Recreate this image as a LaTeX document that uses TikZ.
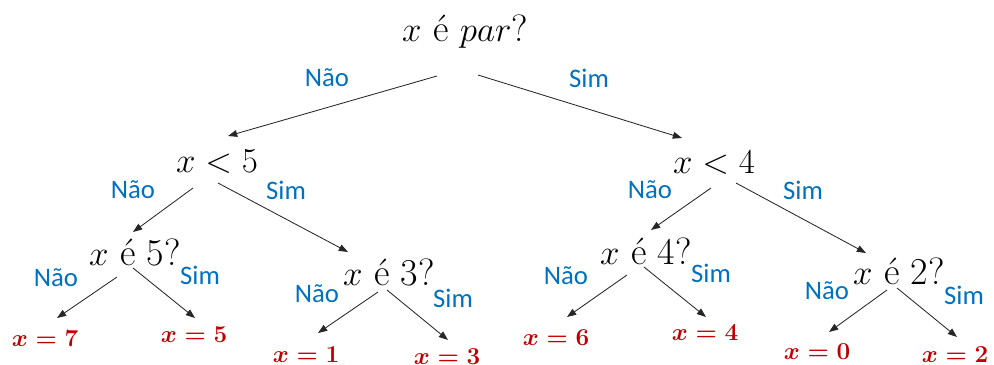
\documentclass[tikz,border=0pt]{standalone}
\usepackage{fontspec}
\usepackage{xcolor}
\usepackage{tikz}
\usetikzlibrary{arrows.meta}
\newfontfamily\lblfont{Carlito}
\definecolor{lblblue}{HTML}{0070C0}
\definecolor{leafred}{HTML}{C00000}

\begin{document}
\begin{tikzpicture}[x=0.025cm, y=-0.025cm,
    cond/.style={font=\fontsize{27}{30}\selectfont, inner sep=0pt},
    leaf/.style={font=\fontsize{18}{22}\selectfont\boldmath, text=leafred, inner sep=0pt},
    lbl/.style={font=\lblfont\fontsize{19}{22}\selectfont, text=lblblue, inner sep=0pt},
    arr/.style={-{Triangle[length=2.3mm,width=1.7mm]}, line width=0.6pt, black!85}
  ]
  \useasboundingbox (0,0) rectangle (994,364);

  % questions
  \node[cond] (root) at (465,32) {$x$ é $par$?};
  \node[cond] (lt5) at (217,162) {$x<5$};
  \node[cond] (lt4) at (714,163) {$x<4$};
  \node[cond] (is5) at (135,252) {$x$ é 5?};
  \node[cond] (is3) at (389,272) {$x$ é 3?};
  \node[cond] (is4) at (646,251) {$x$ é 4?};
  \node[cond] (is2) at (899,271) {$x$ é 2?};

  % answers
  \node[leaf] (x7) at (45,339) {$x=7$};
  \node[leaf] (x5) at (194,335) {$x=5$};
  \node[leaf] (x1) at (306,355) {$x=1$};
  \node[leaf] (x3) at (447,357) {$x=3$};
  \node[leaf] (x6) at (556,338) {$x=6$};
  \node[leaf] (x4) at (705,333) {$x=4$};
  \node[leaf] (x0) at (817,352) {$x=0$};
  \node[leaf] (x2) at (955,355) {$x=2$};

  % branch labels
  \node[lbl] (rootno) at (327,78) {Não};
  \node[lbl] (rootyes) at (589,78) {Sim};
  \node[lbl] (lt5no) at (133,190) {Não};
  \node[lbl] (lt5yes) at (286,190) {Sim};
  \node[lbl] (lt4no) at (650,190) {Não};
  \node[lbl] (lt4yes) at (803,190) {Sim};
  \node[lbl] (is5no) at (56,278) {Não};
  \node[lbl] (is5yes) at (200,275) {Sim};
  \node[lbl] (is3no) at (317,294) {Não};
  \node[lbl] (is3yes) at (453,298) {Sim};
  \node[lbl] (is4no) at (566,276) {Não};
  \node[lbl] (is4yes) at (711,273) {Sim};
  \node[lbl] (is2no) at (827,291) {Não};
  \node[lbl] (is2yes) at (964,295) {Sim};

  \draw[arr] ([shift={(-28,44)}]root.center) -- ([shift={(11,-26)}]lt5.center);
  \draw[arr] ([shift={(13,43)}]root.center) -- ([shift={(-32,-25)}]lt4.center);

  \draw[arr] ([shift={(-24,26)}]lt5.center) -- ([shift={(-2,-20)}]is5.center);
  \draw[arr] ([shift={(1,21)}]lt5.center) -- ([shift={(-41,-20)}]is3.center);
  \draw[arr] ([shift={(-3,25)}]lt4.center) -- ([shift={(5,-21)}]is4.center);
  \draw[arr] ([shift={(22,20)}]lt4.center) -- ([shift={(-33,-18)}]is2.center);

  \draw[arr] ([shift={(-18,25)}]is5.center) -- ([shift={(12,-21)}]x7.center);
  \draw[arr] ([shift={(-2,16)}]is5.center) -- ([shift={(1,-17)}]x5.center);
  \draw[arr] ([shift={(-11,20)}]is3.center) -- ([shift={(12,-22)}]x1.center);
  \draw[arr] ([shift={(-2,18)}]is3.center) -- ([shift={(1,-17)}]x3.center);
  \draw[arr] ([shift={(-19,24)}]is4.center) -- ([shift={(11,-21)}]x6.center);
  \draw[arr] ([shift={(-2,16)}]is4.center) -- ([shift={(1,-16)}]x4.center);
  \draw[arr] ([shift={(-12,19)}]is2.center) -- ([shift={(12,-20)}]x0.center);
  \draw[arr] ([shift={(-2,17)}]is2.center) -- ([shift={(2,-18)}]x2.center);
\end{tikzpicture}
\end{document}
